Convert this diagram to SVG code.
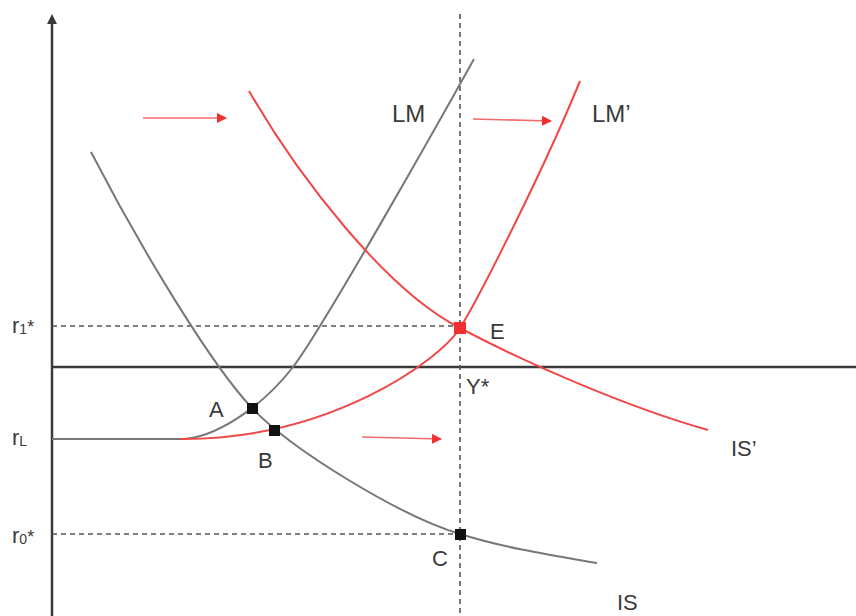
<svg xmlns="http://www.w3.org/2000/svg" width="856" height="616" viewBox="0 0 856 616">
<style>
.lbl{font-family:"Liberation Sans",Arial,sans-serif;font-size:22px;fill:#3a3a3a}
.axis{stroke:#3a3a3a;stroke-width:2.5;fill:none}
.dash{stroke:#555;stroke-width:1.6;stroke-dasharray:5,4;fill:none}
.grey{stroke:#777;stroke-width:2;fill:none}
.red{stroke:#f04848;stroke-width:2;fill:none}
.shift{stroke:#f46a6a;stroke-width:1.6;fill:none;marker-end:url(#rh)}
</style>
<defs>
<marker id="rh" markerWidth="10" markerHeight="10" refX="9" refY="5" orient="auto" markerUnits="userSpaceOnUse">
<path d="M0,0 L10,5 L0,10 Z" fill="#f03030"/>
</marker>
</defs>
<rect width="856" height="616" fill="#fff"/>
<g id="axes">
<line class="axis" x1="52" y1="22" x2="52" y2="616"/>
<path d="M52,14 L47,24 L57,24 Z" fill="#3a3a3a"/>
<line class="axis" x1="52" y1="367" x2="856" y2="367"/>
</g>
<g id="guides">
<line class="dash" x1="460" y1="14" x2="460" y2="616"/>
<line class="dash" x1="52" y1="326" x2="460" y2="326"/>
<line class="dash" x1="52" y1="534" x2="460" y2="534"/>
</g>
<g id="connectors">
<path id="LM" class="grey" d="M52,439 L180,439 C215,439 263,406 293,367 C323,328 444,113 474,59"/>
<path id="IS" class="grey" d="M91,152 C141,249 212,366 252,408 C292,450 400,516 460,534 C505,548 550,555 597,563"/>
<path id="LMp" class="red" d="M180,439 C330,440 440,360 460,328 C480,296 545,167 580,81"/>
<path id="ISp" class="red" d="M249,91 C299,178 387,291 460,328 C530,365 630,408 708,430"/>
<line class="shift" x1="143" y1="118" x2="226" y2="118"/>
<line class="shift" x1="473" y1="119" x2="551" y2="121"/>
<line class="shift" x1="362" y1="437" x2="441" y2="439"/>
</g>
<g id="A"><rect x="247" y="403" width="11" height="11" fill="#111"/><text class="lbl" x="209" y="417">A</text></g>
<g id="B"><rect x="269" y="425" width="11" height="11" fill="#111"/><text class="lbl" x="258" y="468">B</text></g>
<g id="C"><rect x="455" y="529" width="11" height="11" fill="#111"/><text class="lbl" x="432" y="566">C</text></g>
<g id="E"><rect x="454" y="322" width="12" height="12" fill="#f03030"/><text class="lbl" x="490" y="339">E</text></g>
<g id="labels">
<text class="lbl" x="392" y="122" style="font-size:24px">LM</text>
<text class="lbl" x="592" y="122" style="font-size:24px">LM’</text>
<text class="lbl" x="731" y="456">IS’</text>
<text class="lbl" x="617" y="610">IS</text>
<text class="lbl" x="466" y="394">Y*</text>
<text class="lbl" x="12" y="333">r<tspan style="font-size:14px" dy="1">1</tspan><tspan dy="-1" style="font-size:18px">*</tspan></text>
<text class="lbl" x="12" y="445">r<tspan style="font-size:14px" dy="1">L</tspan></text>
<text class="lbl" x="12" y="543">r<tspan style="font-size:14px" dy="1">0</tspan><tspan dy="-1" style="font-size:18px">*</tspan></text>
</g>
</svg>
